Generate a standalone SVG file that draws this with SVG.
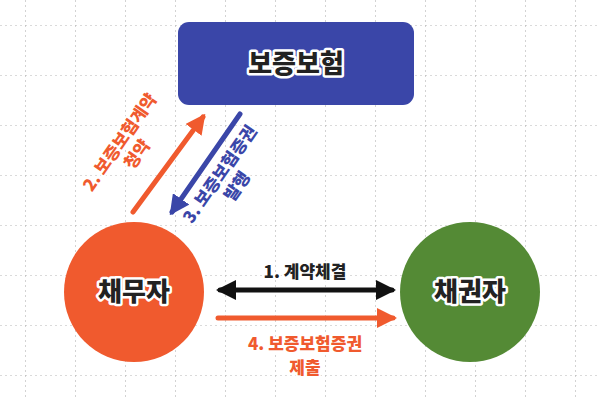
<svg xmlns="http://www.w3.org/2000/svg" width="600" height="400" viewBox="0 0 600 400">
<defs>
<pattern id="g" width="50" height="50" patternUnits="userSpaceOnUse" x="25" y="25">
<path d="M0 0H50M0 0V50" stroke="#b5b5b5" stroke-width="1.2" stroke-dasharray="2 3" fill="none"/>
</pattern>
<marker id="ao" viewBox="0 0 10 10" refX="8" refY="5" markerWidth="4" markerHeight="4" orient="auto-start-reverse"><path d="M0 0L10 5L0 10z" fill="#f05a2e"/></marker>
<marker id="ab" viewBox="0 0 10 10" refX="8" refY="5" markerWidth="4" markerHeight="4" orient="auto-start-reverse"><path d="M0 0L10 5L0 10z" fill="#3a46a8"/></marker>
<marker id="ak" viewBox="0 0 10 10" refX="8" refY="5" markerWidth="4" markerHeight="4" orient="auto-start-reverse"><path d="M0 0L10 5L0 10z" fill="#111"/></marker>
</defs>
<style>
text{font-family:"Noto Sans CJK KR","Noto Sans",sans-serif;font-weight:900;text-anchor:middle;paint-order:stroke;stroke:#fff;stroke-linejoin:round}
.n{font-size:26px;fill:#222;stroke-width:5}
.l{font-size:17px;stroke-width:4}
</style>
<rect width="600" height="400" fill="#fff"/>
<rect width="600" height="400" fill="url(#g)"/>
<g id="node-guarantee"><rect x="178" y="22" width="236" height="83" rx="11" fill="#3a46a8"/><text class="n" x="296" y="73">보증보험</text></g>
<g id="node-debtor"><circle cx="134" cy="292" r="70" fill="#f05a2e"/><text class="n" x="134" y="301">채무자</text></g>
<g id="node-creditor"><circle cx="470" cy="292" r="70" fill="#548a35"/><text class="n" x="470" y="301">채권자</text></g>
<g id="connectors" stroke-width="5" stroke-linecap="round" fill="none">
<line x1="133" y1="212" x2="203" y2="117" stroke="#f05a2e" marker-end="url(#ao)"/>
<line x1="240" y1="114" x2="172" y2="212" stroke="#3a46a8" marker-end="url(#ab)"/>
<line x1="220" y1="290" x2="392" y2="290" stroke="#111" marker-start="url(#ak)" marker-end="url(#ak)"/>
<line x1="218" y1="318" x2="393" y2="318" stroke="#f05a2e" marker-end="url(#ao)"/>
</g>
<g id="labels">
<text class="l" fill="#f05a2e" transform="translate(128,148) rotate(-55)"><tspan x="0" y="-4">2. 보증보험계약</tspan><tspan x="0" y="17">청약</tspan></text>
<text class="l" fill="#3a46a8" transform="translate(228,180) rotate(-55)"><tspan x="0" y="-4">3. 보증보험증권</tspan><tspan x="0" y="17">발행</tspan></text>
<text class="l" fill="#222" x="305" y="278">1. 계약체결</text>
<text class="l" fill="#f05a2e" x="305" y="350">4. 보증보험증권</text>
<text class="l" fill="#f05a2e" x="305" y="374">제출</text>
</g>
</svg>
